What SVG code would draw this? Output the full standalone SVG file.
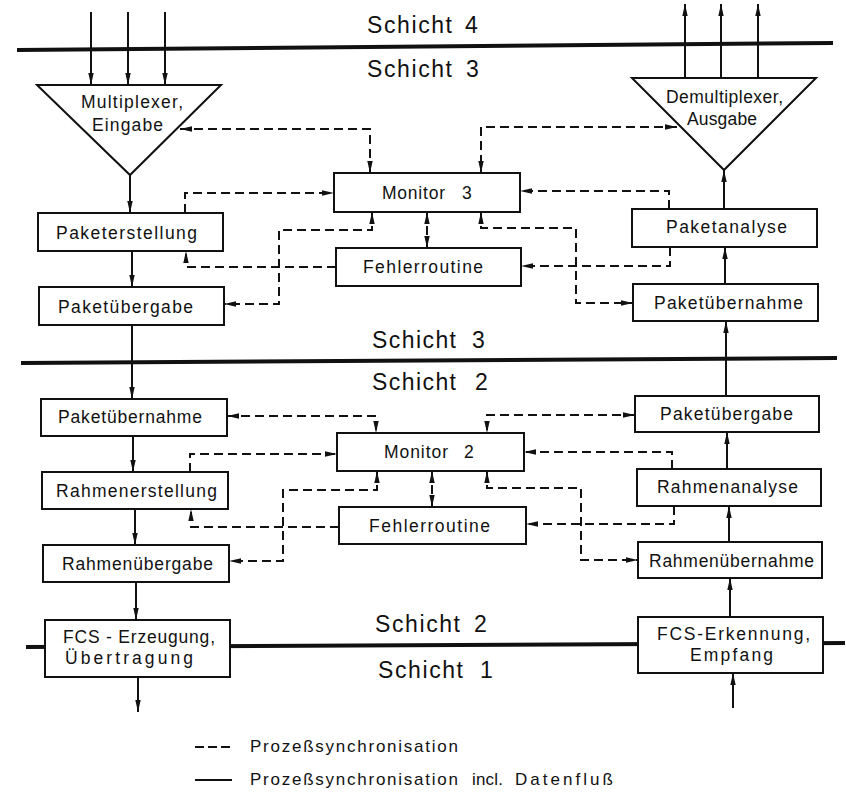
<svg xmlns="http://www.w3.org/2000/svg" width="846" height="794" viewBox="0 0 846 794">
  <defs>
    <marker id="ah" viewBox="0 0 12 6" refX="12" refY="3" markerWidth="12" markerHeight="6" markerUnits="userSpaceOnUse" orient="auto-start-reverse">
      <path d="M0,0.3 L12,3 L0,5.7 z" fill="#111"/>
    </marker>
    <style>
      .box { fill: #fff; stroke: #111; stroke-width: 2; }
      .lbl { font-family: "Liberation Sans", Arial, sans-serif; font-size: 17.5px; fill: #111; }
      .lay { font-family: "Liberation Sans", Arial, sans-serif; font-size: 23px; fill: #111; }
      .leg { font-family: "Liberation Sans", Arial, sans-serif; font-size: 17px; fill: #111; }
      .layer { stroke: #111; stroke-width: 4; fill: none; }
      .flow { stroke: #111; stroke-width: 2; fill: none; marker-end: url(#ah); }
      .sync { stroke: #111; stroke-width: 2; fill: none; stroke-dasharray: 9 5; }
      .end { marker-end: url(#ah); }
      .both { marker-start: url(#ah); marker-end: url(#ah); }
    </style>
  </defs>
  <rect width="846" height="794" fill="#fff"/>

  <!-- layer boundaries -->
  <g id="layers">
    <line class="layer" x1="17" y1="50" x2="833" y2="43"/>
    <line class="layer" x1="21" y1="363" x2="837" y2="358"/>
    <line class="layer" x1="26" y1="647" x2="845" y2="643"/>
    <text class="lay" y="33"><tspan x="367" textLength="85" lengthAdjust="spacing">Schicht</tspan><tspan x="465">4</tspan></text>
    <text class="lay" y="77"><tspan x="367" textLength="85" lengthAdjust="spacing">Schicht</tspan><tspan x="466">3</tspan></text>
    <text class="lay" y="348"><tspan x="372" textLength="84" lengthAdjust="spacing">Schicht</tspan><tspan x="472">3</tspan></text>
    <text class="lay" y="390"><tspan x="372" textLength="84" lengthAdjust="spacing">Schicht</tspan><tspan x="475">2</tspan></text>
    <text class="lay" y="632"><tspan x="375" textLength="85" lengthAdjust="spacing">Schicht</tspan><tspan x="474">2</tspan></text>
    <text class="lay" y="678"><tspan x="378" textLength="85" lengthAdjust="spacing">Schicht</tspan><tspan x="480">1</tspan></text>
  </g>

  <!-- connectors -->
  <g id="connectors">
    <!-- data flow, sending side -->
    <path class="flow" d="M91,12 V85"/>
    <path class="flow" d="M128,12 V85"/>
    <path class="flow" d="M165,12 V85"/>
    <path class="flow" d="M130,175 V213"/>
    <path class="flow" d="M132,251 V287"/>
    <path class="flow" d="M132,325 V399"/>
    <path class="flow" d="M133,436 V472"/>
    <path class="flow" d="M135,509 V545"/>
    <path class="flow" d="M136,582 V620"/>
    <path class="flow" d="M138,677 V712"/>
    <!-- data flow, receiving side -->
    <path class="flow" d="M733,708 V673"/>
    <path class="flow" d="M730,617 V578"/>
    <path class="flow" d="M729,542 V506"/>
    <path class="flow" d="M727,469 V432"/>
    <path class="flow" d="M726,396 V321"/>
    <path class="flow" d="M725,284 V247"/>
    <path class="flow" d="M724,209 V170"/>
    <path class="flow" d="M685,78 V4"/>
    <path class="flow" d="M721,78 V4"/>
    <path class="flow" d="M758,78 V4"/>

    <!-- synchronisation, layer 3 -->
    <path class="sync both" d="M180,129 H370 V173"/>
    <path class="sync end" d="M185,213 V193 H334"/>
    <path class="sync both" d="M372,212 V230 H279 V304 H224"/>
    <path class="sync end" d="M336,267 H186 V251"/>
    <path class="sync both" d="M427,212 V248"/>
    <path class="sync both" d="M677,127 H481 V173"/>
    <path class="sync end" d="M669,209 V191 H520"/>
    <path class="sync both" d="M481,212 V228 H576 V303 H633"/>
    <path class="sync end" d="M670,247 V266 H521"/>

    <!-- synchronisation, layer 2 -->
    <path class="sync both" d="M227,416 H376 V433"/>
    <path class="sync end" d="M190,472 V454 H337"/>
    <path class="sync both" d="M377,471 V490 H283 V561 H229"/>
    <path class="sync end" d="M339,527 H191 V509"/>
    <path class="sync both" d="M432,471 V507"/>
    <path class="sync both" d="M635,415 H487 V433"/>
    <path class="sync end" d="M672,469 V452 H524"/>
    <path class="sync both" d="M487,471 V488 H581 V560 H638"/>
    <path class="sync end" d="M674,506 V524 H526"/>
  </g>

  <!-- layer 3 nodes -->
  <g id="multiplexer">
    <polygon class="box" points="37,85 221,85 130,175"/>
    <text class="lbl" x="81" y="108" textLength="102" lengthAdjust="spacing">Multiplexer,</text>
    <text class="lbl" x="92" y="131" textLength="71" lengthAdjust="spacing">Eingabe</text>
  </g>
  <g id="demultiplexer">
    <polygon class="box" points="632,78 816,78 724,170"/>
    <text class="lbl" x="666" y="103" textLength="117" lengthAdjust="spacing">Demultiplexer,</text>
    <text class="lbl" x="687" y="125" textLength="70" lengthAdjust="spacing">Ausgabe</text>
  </g>
  <g id="monitor3">
    <rect class="box" x="334" y="173" width="186" height="39"/>
    <text class="lbl" y="199"><tspan x="382" textLength="63" lengthAdjust="spacing">Monitor</tspan><tspan x="462">3</tspan></text>
  </g>
  <g id="fehlerroutine3">
    <rect class="box" x="336" y="248" width="185" height="38"/>
    <text class="lbl" x="363" y="273" textLength="120" lengthAdjust="spacing">Fehlerroutine</text>
  </g>
  <g id="paketerstellung">
    <rect class="box" x="38" y="213" width="185" height="38"/>
    <text class="lbl" x="56" y="239" textLength="141" lengthAdjust="spacing">Paketerstellung</text>
  </g>
  <g id="paketuebergabe3">
    <rect class="box" x="39" y="287" width="185" height="38"/>
    <text class="lbl" x="58" y="313" textLength="135" lengthAdjust="spacing">Paketübergabe</text>
  </g>
  <g id="paketanalyse">
    <rect class="box" x="632" y="209" width="185" height="38"/>
    <text class="lbl" x="666" y="233" textLength="121" lengthAdjust="spacing">Paketanalyse</text>
  </g>
  <g id="paketuebernahme3">
    <rect class="box" x="633" y="284" width="185" height="37"/>
    <text class="lbl" x="654" y="309" textLength="149" lengthAdjust="spacing">Paketübernahme</text>
  </g>

  <!-- layer 2 nodes -->
  <g id="paketuebernahme2">
    <rect class="box" x="41" y="399" width="186" height="37"/>
    <text class="lbl" x="58" y="423" textLength="144" lengthAdjust="spacing">Paketübernahme</text>
  </g>
  <g id="rahmenerstellung">
    <rect class="box" x="42" y="472" width="186" height="37"/>
    <text class="lbl" x="56" y="497" textLength="161" lengthAdjust="spacing">Rahmenerstellung</text>
  </g>
  <g id="rahmenuebergabe">
    <rect class="box" x="43" y="545" width="186" height="37"/>
    <text class="lbl" x="62" y="570" textLength="151" lengthAdjust="spacing">Rahmenübergabe</text>
  </g>
  <g id="monitor2">
    <rect class="box" x="337" y="433" width="187" height="38"/>
    <text class="lbl" y="458"><tspan x="384" textLength="64" lengthAdjust="spacing">Monitor</tspan><tspan x="464">2</tspan></text>
  </g>
  <g id="fehlerroutine2">
    <rect class="box" x="339" y="507" width="187" height="37"/>
    <text class="lbl" x="369" y="532" textLength="121" lengthAdjust="spacing">Fehlerroutine</text>
  </g>
  <g id="paketuebergabe2">
    <rect class="box" x="635" y="396" width="184" height="36"/>
    <text class="lbl" x="660" y="420" textLength="133" lengthAdjust="spacing">Paketübergabe</text>
  </g>
  <g id="rahmenanalyse">
    <rect class="box" x="637" y="469" width="184" height="37"/>
    <text class="lbl" x="657" y="493" textLength="141" lengthAdjust="spacing">Rahmenanalyse</text>
  </g>
  <g id="rahmenuebernahme">
    <rect class="box" x="638" y="542" width="184" height="36"/>
    <text class="lbl" x="649" y="567" textLength="165" lengthAdjust="spacing">Rahmenübernahme</text>
  </g>

  <!-- layer 2 / layer 1 boundary nodes -->
  <g id="fcs-erzeugung">
    <rect class="box" x="45" y="620" width="185" height="57"/>
    <text class="lbl" x="63" y="643" textLength="152" lengthAdjust="spacing">FCS - Erzeugung,</text>
    <text class="lbl" x="65" y="664" textLength="128" lengthAdjust="spacing">Übertragung</text>
  </g>
  <g id="fcs-erkennung">
    <rect class="box" x="638" y="617" width="185" height="56"/>
    <text class="lbl" x="657" y="640" textLength="153" lengthAdjust="spacing">FCS-Erkennung,</text>
    <text class="lbl" x="690" y="661" textLength="83" lengthAdjust="spacing">Empfang</text>
  </g>

  <!-- legend -->
  <g id="legend">
    <line x1="195" y1="747" x2="230" y2="747" stroke="#111" stroke-width="2" stroke-dasharray="9 4"/>
    <text class="leg" x="250" y="752" textLength="208" lengthAdjust="spacing">Prozeßsynchronisation</text>
    <line x1="195" y1="780" x2="232" y2="780" stroke="#111" stroke-width="2"/>
    <text class="leg" y="785"><tspan x="250" textLength="208" lengthAdjust="spacing">Prozeßsynchronisation</tspan><tspan x="472" textLength="31" lengthAdjust="spacing">incl.</tspan><tspan x="515" textLength="98" lengthAdjust="spacing">Datenfluß</tspan></text>
  </g>
</svg>
